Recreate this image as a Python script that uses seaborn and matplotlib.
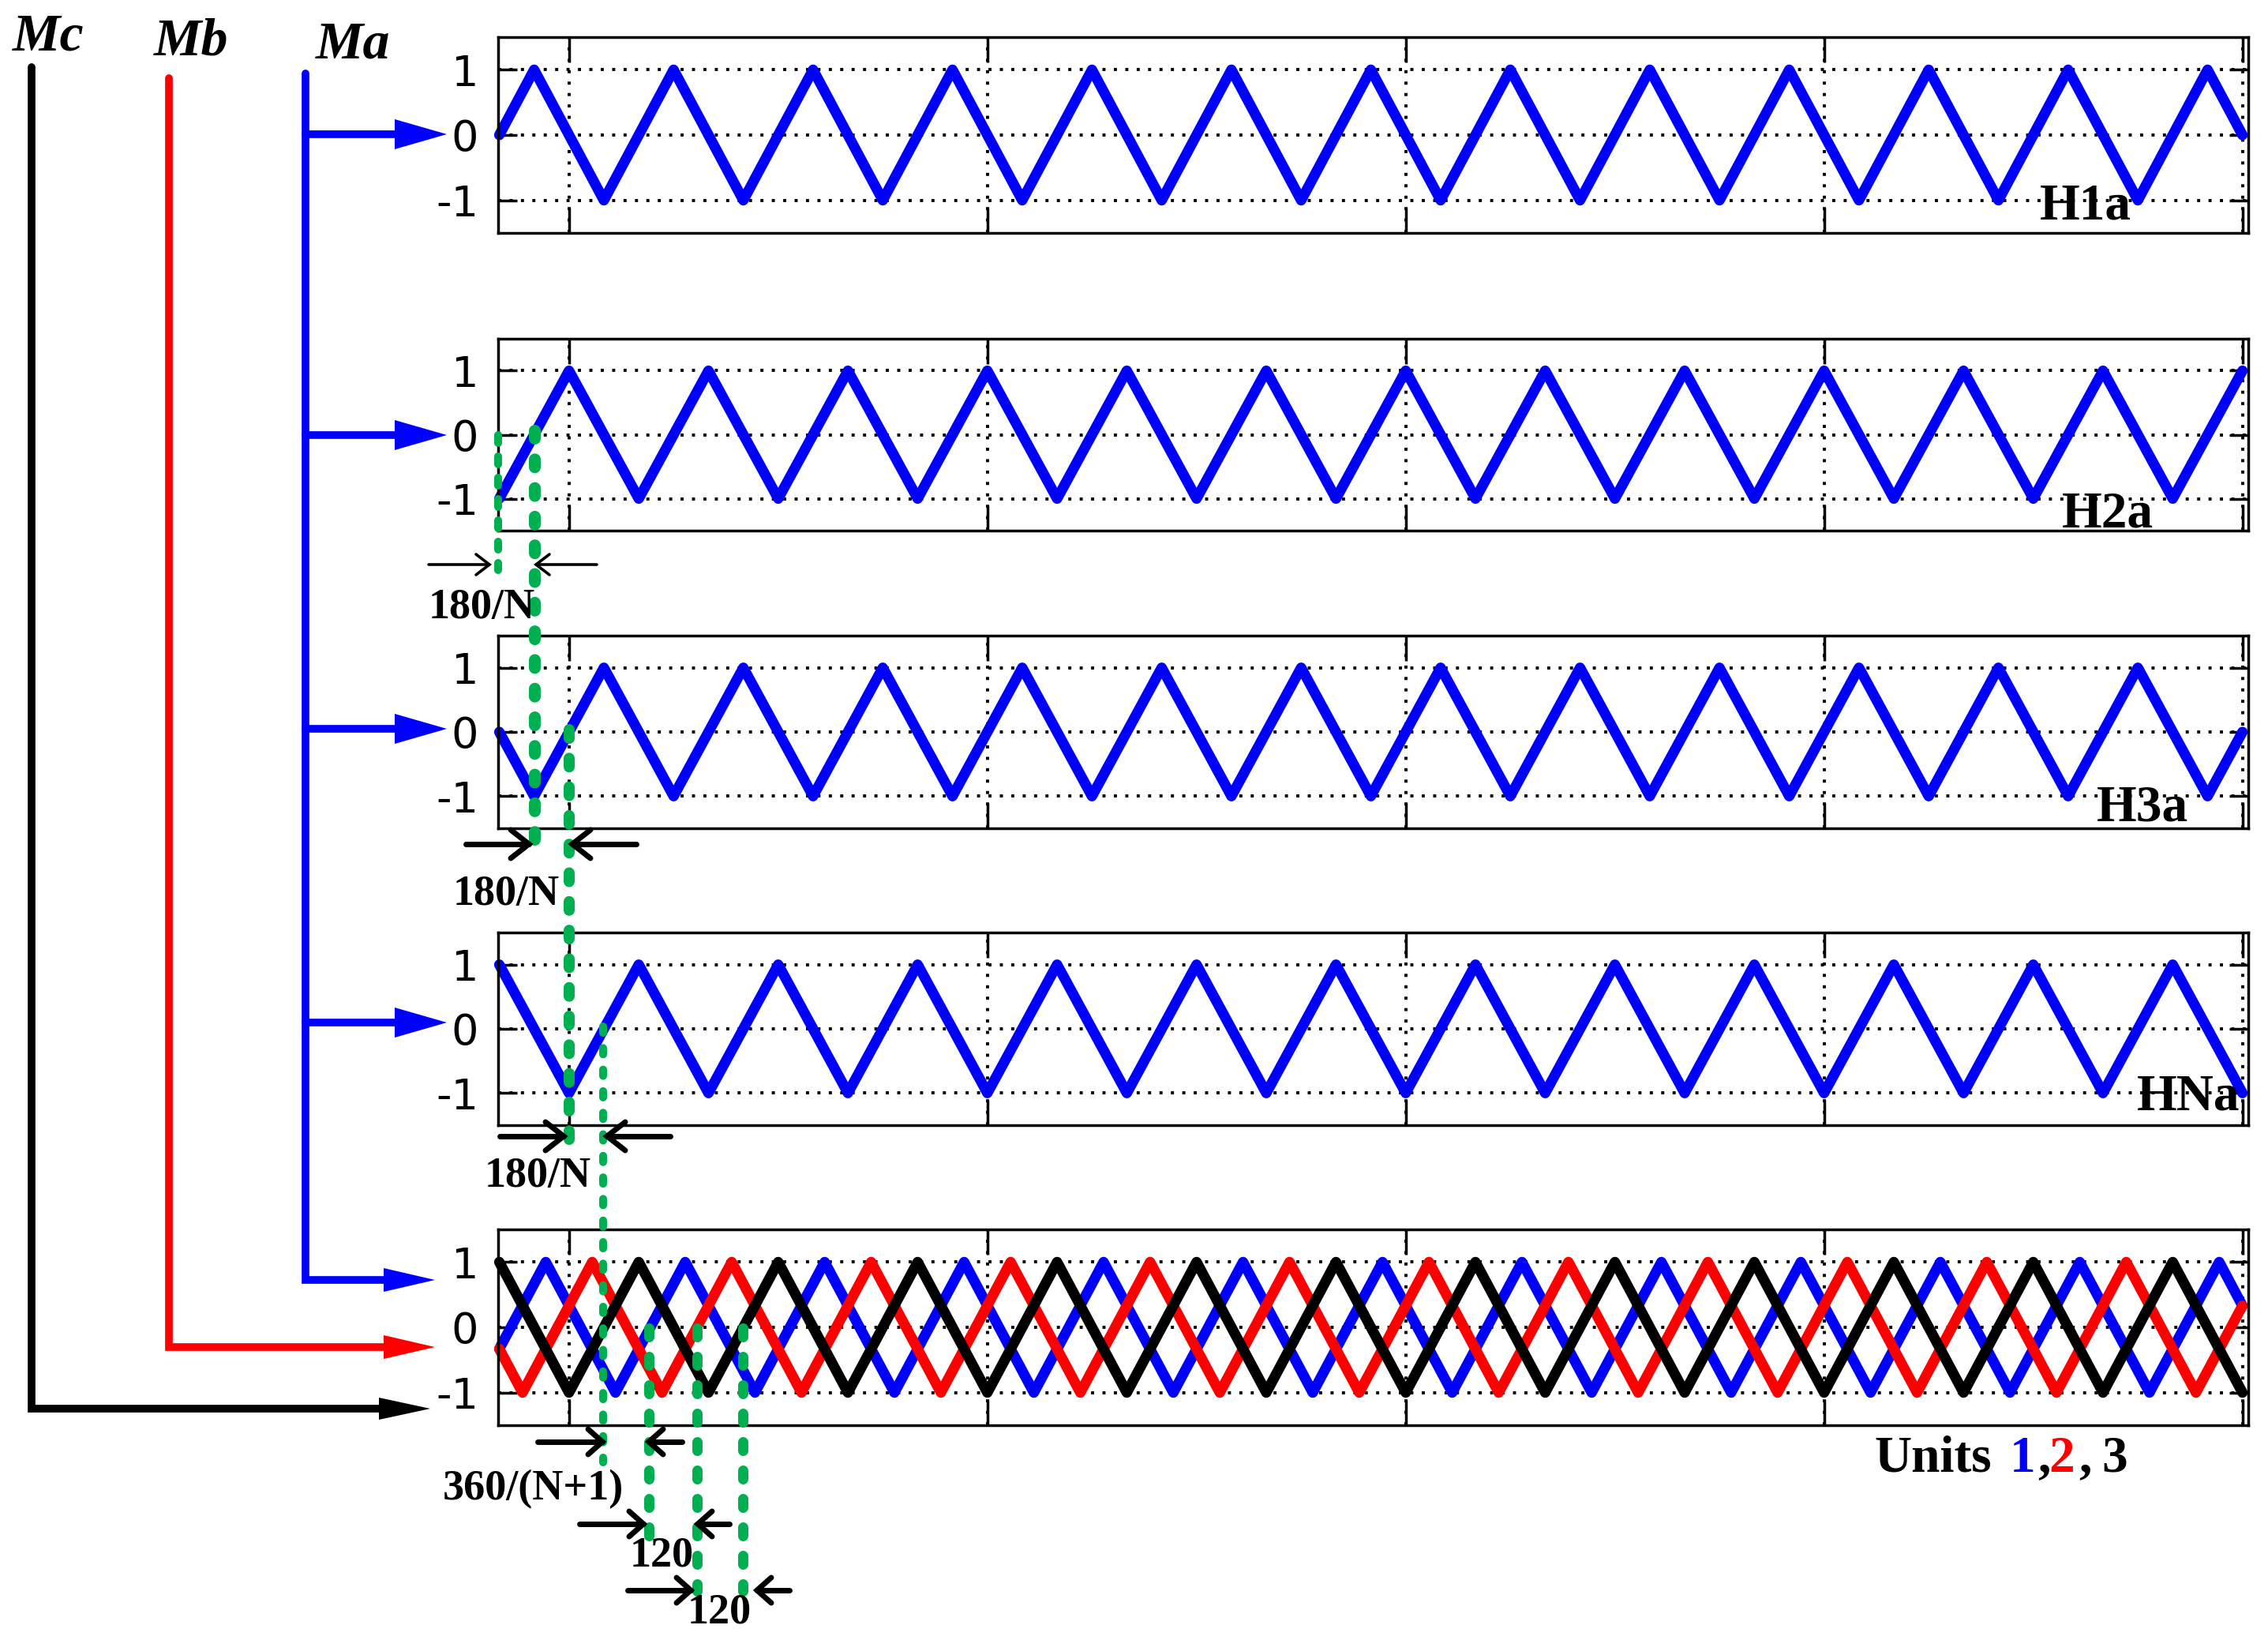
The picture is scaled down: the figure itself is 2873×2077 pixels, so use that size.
import pandas as pd
import seaborn as sns
import matplotlib.pyplot as plt
from matplotlib.patches import Polygon

fig_w=2873
fig_h=2077

# carrier vertices, x in degrees, y in per unit
x_h1=[0,90,270,450,630,810,990,1170,1350,1530,1710,1890,2070,2250,2430,2610,2790,2970,3150,3330,3510,3690,3870,4050,4230,4410,4500]
y_h1=[0,1,-1,1,-1,1,-1,1,-1,1,-1,1,-1,1,-1,1,-1,1,-1,1,-1,1,-1,1,-1,1,0]

x_h2=[0,180,360,540,720,900,1080,1260,1440,1620,1800,1980,2160,2340,2520,2700,2880,3060,3240,3420,3600,3780,3960,4140,4320,4500]
y_h2=[-1,1,-1,1,-1,1,-1,1,-1,1,-1,1,-1,1,-1,1,-1,1,-1,1,-1,1,-1,1,-1,1]

x_h3=[0,90,270,450,630,810,990,1170,1350,1530,1710,1890,2070,2250,2430,2610,2790,2970,3150,3330,3510,3690,3870,4050,4230,4410,4500]
y_h3=[0,-1,1,-1,1,-1,1,-1,1,-1,1,-1,1,-1,1,-1,1,-1,1,-1,1,-1,1,-1,1,-1,0]

x_hn=[0,180,360,540,720,900,1080,1260,1440,1620,1800,1980,2160,2340,2520,2700,2880,3060,3240,3420,3600,3780,3960,4140,4320,4500]
y_hn=[1,-1,1,-1,1,-1,1,-1,1,-1,1,-1,1,-1,1,-1,1,-1,1,-1,1,-1,1,-1,1,-1]

x_unit1=[0,120,300,480,660,840,1020,1200,1380,1560,1740,1920,2100,2280,2460,2640,2820,3000,3180,3360,3540,3720,3900,4080,4260,4440,4500]
y_unit1=[-0.33,1,-1,1,-1,1,-1,1,-1,1,-1,1,-1,1,-1,1,-1,1,-1,1,-1,1,-1,1,-1,1,0.33]

x_unit2=[0,60,240,420,600,780,960,1140,1320,1500,1680,1860,2040,2220,2400,2580,2760,2940,3120,3300,3480,3660,3840,4020,4200,4380,4500]
y_unit2=[-0.33,-1,1,-1,1,-1,1,-1,1,-1,1,-1,1,-1,1,-1,1,-1,1,-1,1,-1,1,-1,1,-1,0.33]

x_unit3=[0,180,360,540,720,900,1080,1260,1440,1620,1800,1980,2160,2340,2520,2700,2880,3060,3240,3420,3600,3780,3960,4140,4320,4500]
y_unit3=[1,-1,1,-1,1,-1,1,-1,1,-1,1,-1,1,-1,1,-1,1,-1,1,-1,1,-1,1,-1,1,-1]

x_ticks=[180,1260,2340,3420,4500]
y_ticks=[-1,0,1]
y_tick_labels=['-1','0','1']

panel_names=['H1a','H2a','H3a','HNa']
unit_colors=['#0000ff','#ff0000','#000000']

sns.set_theme(style="white",rc={
    'lines.scale_dashes':False,
    'axes.edgecolor':'black',
    'axes.linewidth':2.5,
    'xtick.color':'black',
    'ytick.color':'black',
})
plt.rcParams['font.family']=['DejaVu Sans']

fig=plt.figure(figsize=(fig_w/100,fig_h/100),dpi=100,facecolor='white')

def panel(top,bottom):
    ax=fig.add_axes([631/fig_w,1-bottom/fig_h,(2848-631)/fig_w,(bottom-top)/fig_h])
    ax.set_xlim(-3,4515)
    ax.set_ylim(-1.5,1.5)
    ax.set_xticks(x_ticks)
    ax.set_xticklabels([])
    ax.set_yticks(y_ticks)
    ax.set_yticklabels(y_tick_labels,fontsize=39)
    ax.tick_params(axis='x',which='major',direction='in',length=23,width=2.5,top=True,bottom=True,labelbottom=False)
    ax.tick_params(axis='y',which='major',direction='in',length=17,width=2.5,left=True,right=True,pad=18,labelcolor='black')
    ax.set_axisbelow(True)
    ax.grid(True,color='black',linewidth=2.8,linestyle=(0,(2.8,7.6)))
    return ax

def carrier(ax,x,y,color):
    df=pd.DataFrame({'deg':x,'pu':y})
    sns.lineplot(data=df,x='deg',y='pu',sort=False,estimator=None,color=color,linewidth=9.5,
                 solid_capstyle='round',solid_joinstyle='round',clip_on=False,legend=False,ax=ax)
    ax.set_xlabel('')
    ax.set_ylabel('')

ax1=panel(47,295)
carrier(ax1,x_h1,y_h1,unit_colors[0])
ax2=panel(429,672)
carrier(ax2,x_h2,y_h2,unit_colors[0])
ax3=panel(805,1049)
carrier(ax3,x_h3,y_h3,unit_colors[0])
ax4=panel(1181,1425)
carrier(ax4,x_hn,y_hn,unit_colors[0])
ax5=panel(1557,1805)
carrier(ax5,x_unit1,y_unit1,unit_colors[0])
carrier(ax5,x_unit2,y_unit2,unit_colors[1])
carrier(ax5,x_unit3,y_unit3,unit_colors[2])

#-----------------------------------------------------------------
#Overlay in picture pixels: buses, arrows, green guides and labels
#-----------------------------------------------------------------
top=fig.add_axes([0,0,1,1],zorder=10)
top.set_xlim(0,fig_w)
top.set_ylim(fig_h,0)
top.axis('off')
top.patch.set_alpha(0)

def bus(xs,ys,color):
    top.plot(xs,ys,color=color,lw=7,solid_capstyle='round',solid_joinstyle='miter')

def head(x0,tip,y,half,color):
    top.add_patch(Polygon([(x0,y-half),(tip,y),(x0,y+half)],closed=True,color=color,lw=0))

# buses and feeders
bus([40,40,490],[85,1784,1784],'black')
bus([214,214,495],[99,1706,1706],'red')
bus([386.5,386.5,495],[93,1621,1621],'blue')
for y in [170,551,923,1295]:
    bus([386.5,505],[y,y],'blue')
    head(500,566,y,19,'blue')
head(486,551,1621,15,'blue')
head(486,551,1706,15,'red')
head(480,545,1784,14,'black')

def guide(x,y0,y1,w,dash,period):
    on=dash-w
    pt=72/100
    top.plot([x,x],[y0+w/2,y1-w/2],color='#00b050',lw=w*pt,
             linestyle=(0,(on*pt,(period-on)*pt)),dash_capstyle='round')

guide(631,546,727,10,20,27)
guide(677,537,1070,15,25,36.3)
guide(721,917,1450,14,25,36.3)
guide(764,1295,1857,10,18,27.3)
guide(822,1675,1953,13,24,36)
guide(882.6,1675,2021,13,24,36)
guide(940.6,1675,2021,13,24,36)

def pointer(tail,tip,y,back,half,w):
    s=1 if tip>tail else -1
    top.plot([tail,tip],[y,y],color='black',lw=w,solid_capstyle='round')
    top.plot([tip-s*back,tip,tip-s*back],[y-half,y,y+half],color='black',lw=w,
             solid_capstyle='round',solid_joinstyle='miter')

pointer(543,620,715,17,13,2.6)
pointer(756,679,715,17,13,2.6)
pointer(590,670,1069,23,18,5)
pointer(806,725,1069,23,18,5)
pointer(633,714,1439,23,18,5)
pointer(849,769,1439,23,18,5)
pointer(681,763,1826,18,16,5)
pointer(864,822,1826,18,16,5)
pointer(734,815,1930,18,16,5)
pointer(924,884,1930,18,16,5)
pointer(795,875,2014,18,16,5)
pointer(1000,959,2014,18,16,5)

def label(x,y,s,size,color='black',style='normal'):
    top.text(x,y,s,fontsize=size,color=color,family='Liberation Serif',weight='bold',
             style=style,ha='left',va='baseline')

label(16,63,'Mc',49,style='italic')
label(195,70,'Mb',49,style='italic')
label(400,74,'Ma',49,style='italic')

label(2584,278,panel_names[0],47)
label(2612,668,panel_names[1],47)
label(2656,1039,panel_names[2],47)
label(2707,1405,panel_names[3],47)

label(543,783,'180/N',39)
label(574,1146,'180/N',39)
label(614,1503,'180/N',39)
label(561,1899,'360/(N+1)',39)
label(798,1984,'120',39)
label(871,2056,'120',39)

label(2374,1864,'Units',47)
label(2546,1864,'1',47,unit_colors[0])
label(2581,1864,',',47)
label(2595,1864,'2',47,unit_colors[1])
label(2633,1864,',',47)
label(2662,1864,'3',47)

plt.savefig("out.png",dpi=100)
plt.close()
